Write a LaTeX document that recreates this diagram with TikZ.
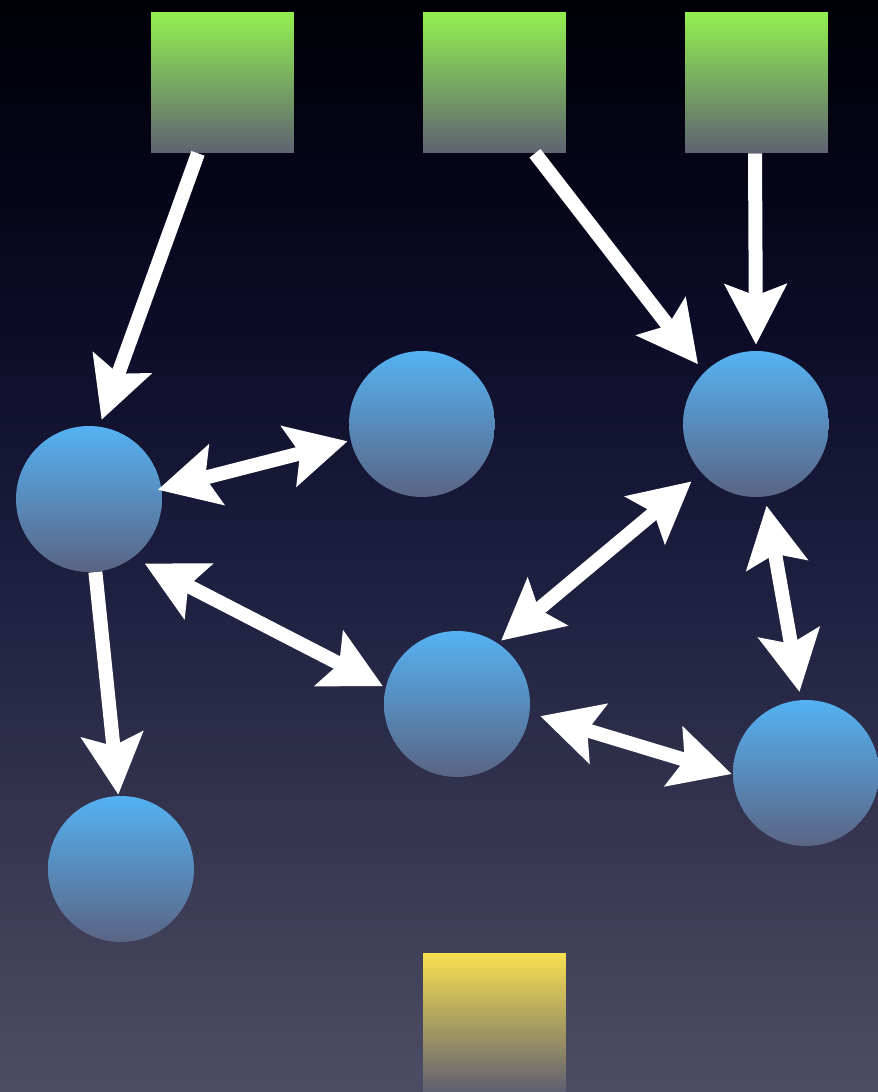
\documentclass[tikz,border=0pt]{standalone}
\usetikzlibrary{arrows.meta}
\definecolor{bgA}{HTML}{4C4C64}
\definecolor{bgB}{HTML}{4A4A62}
\definecolor{bgC}{HTML}{35354F}
\definecolor{bgD}{HTML}{1E2040}
\definecolor{bgE}{HTML}{0C0C28}
\definecolor{bgF}{HTML}{050518}
\definecolor{bgG}{HTML}{000006}
\pgfdeclareverticalshading{bgshade}{100bp}{color(0bp)=(bgA); color(25bp)=(bgA); color(26.5bp)=(bgB); color(37bp)=(bgC); color(48bp)=(bgD); color(59.9bp)=(bgE); color(66.8bp)=(bgF); color(75bp)=(bgG); color(100bp)=(bgG)}
\definecolor{balltop}{HTML}{55B2F2}
\definecolor{ballbot}{HTML}{5A6484}
\definecolor{grntop}{HTML}{92F050}
\definecolor{grnbot}{HTML}{5E6272}
\definecolor{yeltop}{HTML}{F8E050}
\definecolor{yelbot}{HTML}{5E5E70}
\tikzset{
  ball/.style={circle, inner sep=0pt, minimum size=2.92cm, top color=balltop, bottom color=ballbot, draw=none},
  greenbox/.style={rectangle, inner sep=0pt, minimum width=2.86cm, minimum height=2.82cm, top color=grntop, bottom color=grnbot, draw=none},
  yellowbox/.style={rectangle, inner sep=0pt, minimum width=2.86cm, minimum height=2.78cm, top color=yeltop, bottom color=yelbot, draw=none},
  conn/.style={white, line width=0.28cm, -{Stealth[length=1.2cm, width=1.22cm, inset=0.22cm]}},
  dconn/.style={white, line width=0.28cm, {Stealth[length=1.2cm, width=1.22cm, inset=0.22cm]}-{Stealth[length=1.2cm, width=1.22cm, inset=0.22cm]}}
}
\begin{document}
\begin{tikzpicture}[x=0.02cm, y=-0.02cm]
\useasboundingbox (0,0) rectangle (878,1092);
\shade[shading=bgshade] (0,0) rectangle (878,1092);
% squares
\node[greenbox] (g1) at (222.5,82.5) {};
\node[greenbox] (g2) at (494.5,82.5) {};
\node[greenbox] (g3) at (756.5,82.5) {};
\node[yellowbox] (y1) at (494.5,1022.5) {};
% balls
\node[ball] (A) at (89,499) {};
\node[ball] (B) at (422,424) {};
\node[ball] (C) at (756,424) {};
\node[ball] (D) at (457,704) {};
\node[ball] (E) at (806,773) {};
\node[ball] (F) at (121,869) {};
% connectors
\draw[conn, shorten >=0.14cm] ([xshift=-0.49cm]g1.south) -- (A.82);
\draw[conn, shorten >=0.2cm] ([xshift=0.81cm]g2.south) -- (C.135);
\draw[conn, shorten >=0.12cm] ([xshift=-0.03cm]g3.south) -- (C.90);
\draw[dconn, shorten >=0.06cm, shorten <=-0.08cm] (A.8) -- (B.193);
\draw[dconn, shorten <=0.26cm, shorten >=0.06cm] (A.-53) -- (D.167);
\draw[dconn, shorten <=0.08cm, shorten >=0.26cm] (D.56) -- (C.222);
\draw[dconn, shorten <=0.18cm, shorten >=0.16cm] (C.-83) -- (E.94);
\draw[dconn, shorten <=0.22cm, shorten >=0.02cm] (D.-7) -- (E.181);
\draw[conn, shorten >=0.02cm] (A.-85) -- (F.92);
\end{tikzpicture}
\end{document}
